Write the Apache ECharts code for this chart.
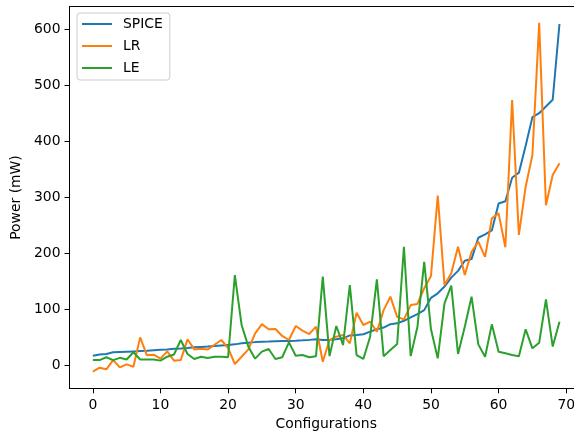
<!DOCTYPE html>
<html>
<head>
<meta charset="utf-8">
<script src="https://cdn.jsdelivr.net/npm/echarts@6/dist/echarts.min.js"></script>
<style>html,body{margin:0;padding:0;background:#fff}#c{width:574px;height:436px}</style>
</head>
<body>
<div id="c"></div>
<script>
// Data (x = configuration index 0..69)
var spice = [17.8, 20, 20.8, 23.8, 24.5, 25, 25.5, 26, 26.5, 27.5, 28.5, 29, 30, 30.5, 31.5, 32.7, 33.5, 34, 35, 36, 37, 38, 40, 41, 42, 42.8, 43, 43.5, 44, 44.2, 44.6, 45.2, 46, 47, 45.7, 46, 47, 48.7, 54, 54.7, 56, 60.6, 65, 68, 74, 75.5, 80, 86, 92, 99, 121, 129, 141, 157, 169, 187, 190, 228, 234, 241, 289, 293, 335, 344, 392, 443, 450, 462, 474, 609];
var lr = [-10.7, -3.6, -6.5, 10, -3, 2.4, -1.8, 50.5, 18.4, 19.6, 12.5, 25.5, 9, 10, 47, 29, 30, 29, 37.4, 45.8, 31.5, 3, 16, 29, 57.6, 74, 65, 65.4, 53, 45.8, 70.7, 62.4, 56.4, 69.5, 7, 45.7, 51.7, 54.7, 39.8, 94.5, 72.5, 78.4, 60.6, 99, 123, 87, 82.6, 108, 110, 138, 160, 303, 144, 164.6, 212, 161.6, 203, 221, 194, 262.6, 271.5, 211, 473.6, 233, 319, 375.5, 611, 286, 340, 360.7];
var le = [10, 10, 15, 10, 14, 11, 24, 11, 11, 11, 9, 16, 20, 45.8, 20.8, 12, 16, 13.7, 16, 16, 15, 161.6, 72.5, 33.9, 12.5, 25, 29.7, 12, 15, 41.6, 17.8, 19, 15, 17, 158.6, 17, 70.7, 36.8, 143.8, 19, 12, 51.7, 153.9, 17, 28, 38.6, 212, 17, 69.5, 185, 64.8, 13, 111, 142.6, 20.8, 69.5, 123, 38, 16, 73.7, 25, 22, 19, 17, 64.8, 31, 41, 118, 34, 78.4];
var seriesNames = ['SPICE', 'LR', 'LE'];
var xTicks = [0, 10, 20, 30, 40, 50, 60, 70];
var yTicks = [0, 100, 200, 300, 400, 500, 600];

function pairs(arr) { return arr.map(function (v, i) { return [i, v]; }); }

var FONT = 'DejaVu Sans';
var FS = 13.9;
var X_MIN = -3.45, X_MAX = 72.45;
var chart = echarts.init(document.getElementById('c'), null, { renderer: 'canvas' });
chart.setOption({
  animation: false,
  backgroundColor: '#fff',
  textStyle: { fontFamily: FONT },
  grid: {
    left: 69.5, right: -8.8, top: 6.7, bottom: 47.7,
    outerBoundsMode: 'none', containLabel: false,
    show: false
  },
  legend: {
    orient: 'vertical',
    left: 77, top: 13,
    data: seriesNames,
    icon: 'rect',
    itemWidth: 30, itemHeight: 2, itemGap: 8,
    padding: [4, 7, 5, 5],
    backgroundColor: 'rgba(255,255,255,0.8)',
    borderColor: '#cccccc', borderWidth: 1, borderRadius: 3,
    textStyle: { fontFamily: FONT, fontSize: FS, color: '#000', lineHeight: 14, padding: [0, 0, 0, 6] }
  },
  xAxis: [{
    type: 'value', min: X_MIN, max: X_MAX, position: 'bottom',
    name: 'Configurations', nameLocation: 'middle', nameGap: 29,
    nameTextStyle: { fontFamily: FONT, fontSize: FS, color: '#000' },
    axisLine: { show: true, onZero: false, lineStyle: { color: '#000', width: 1 } },
    axisTick: { show: true, inside: false, length: 5, lineStyle: { color: '#000', width: 1 }, customValues: xTicks },
    axisLabel: { show: true, margin: 10, fontFamily: FONT, fontSize: FS, color: '#000', customValues: xTicks },
    splitLine: { show: false }
  }, {
    type: 'value', min: X_MIN, max: X_MAX, position: 'top',
    axisLine: { show: true, onZero: false, lineStyle: { color: '#000', width: 1 } },
    axisTick: { show: false }, axisLabel: { show: false }, splitLine: { show: false }
  }],
  yAxis: {
    type: 'value', min: -40.3, max: 639.8,
    name: 'Power (mW)', nameLocation: 'middle', nameGap: 44, nameRotate: 90,
    nameTextStyle: { fontFamily: FONT, fontSize: FS, color: '#000' },
    axisLine: { show: true, onZero: false, lineStyle: { color: '#000', width: 1 } },
    axisTick: { show: true, inside: false, length: 5, lineStyle: { color: '#000', width: 1 }, customValues: yTicks },
    axisLabel: { show: true, margin: 9, fontFamily: FONT, fontSize: FS, color: '#000', customValues: yTicks },
    splitLine: { show: false }
  },
  series: [
    { name: 'SPICE', type: 'line', data: pairs(spice), showSymbol: false, symbol: 'none', lineStyle: { color: '#1f77b4', width: 2 }, itemStyle: { color: '#1f77b4' } },
    { name: 'LR', type: 'line', data: pairs(lr), showSymbol: false, symbol: 'none', lineStyle: { color: '#ff7f0e', width: 2 }, itemStyle: { color: '#ff7f0e' } },
    { name: 'LE', type: 'line', data: pairs(le), showSymbol: false, symbol: 'none', lineStyle: { color: '#2ca02c', width: 2 }, itemStyle: { color: '#2ca02c' } }
  ]
});
</script>
</body>
</html>
